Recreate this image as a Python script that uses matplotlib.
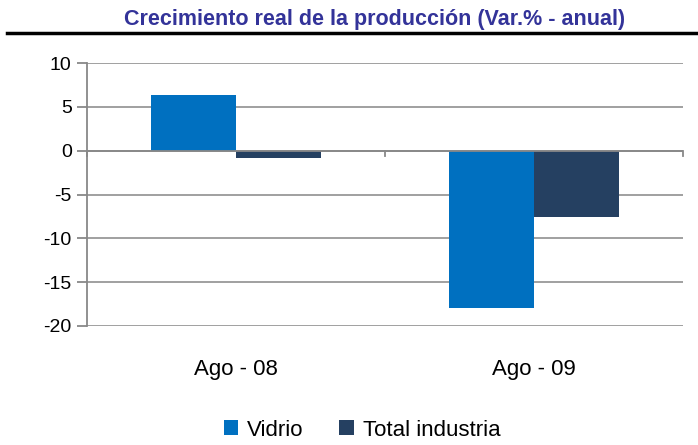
import matplotlib
matplotlib.use("Agg")
import matplotlib.pyplot as plt
import numpy as np
from matplotlib.lines import Line2D

categories = ["Ago - 08", "Ago - 09"]
vidrio = [6.3, -17.9]
total_industria = [-0.8, -7.6]
series_names = ["Vidrio", "Total industria"]
yticks = [10, 5, 0, -5, -10, -15, -20]

narrow = ["Liberation Sans Narrow", "Liberation Sans", "DejaVu Sans"]

fig = plt.figure(figsize=(6.98, 4.45), dpi=100)
ax = fig.add_axes([87/698, 1-326/445, (683-87)/698, (326-63)/445])

x = np.arange(len(categories))
w = 85/298
ax.bar(x - w/2, vidrio, width=w, color="#0070C0", label=series_names[0], zorder=3)
ax.bar(x + w/2, total_industria, width=w, color="#254061", label=series_names[1], zorder=3)

ax.set_xlim(-0.5, 1.5)
ax.set_ylim(-20, 10)
ax.set_yticks(yticks)
ax.set_yticklabels([str(t) for t in yticks], family=narrow, fontsize=14)
ax.grid(axis="y", color="#999999", linewidth=1.3, zorder=0)
ax.set_axisbelow(True)
for s in ["top", "right", "bottom"]:
    ax.spines[s].set_visible(False)
ax.spines["left"].set_color("#888888")
ax.spines["left"].set_linewidth(1.3)
ax.tick_params(axis="y", length=7, color="#888888", width=1.3, pad=4)

# category axis at zero with boundary ticks
ax.axhline(0, color="#888888", linewidth=1.3, zorder=4)
for b in [-0.5, 0.5, 1.5]:
    ax.plot([b, b], [0, -0.6], color="#888888", linewidth=1.3, zorder=4, clip_on=False)
ax.set_xticks(x)
ax.set_xticklabels(categories, family=narrow, fontsize=16)
ax.tick_params(axis="x", length=0, pad=24)

fig.text(375/698, 1-19.5/445, "Crecimiento real de la producción (Var.% - anual)",
         ha="center", va="center", fontsize=15.5, fontweight="bold",
         color="#333399", family=narrow)
fig.add_artist(Line2D([7/698, 1.0], [1-33/445, 1-33/445], color="black",
                      linewidth=2.5, transform=fig.transFigure))

leg = fig.legend(loc="center", bbox_to_anchor=(362/698, 1-430/445), ncol=2,
                 frameon=False, prop={"family": narrow, "size": 16},
                 handlelength=0.65, handleheight=0.65, handletextpad=0.4,
                 columnspacing=1.6)

fig.savefig("out.png", dpi=100)
